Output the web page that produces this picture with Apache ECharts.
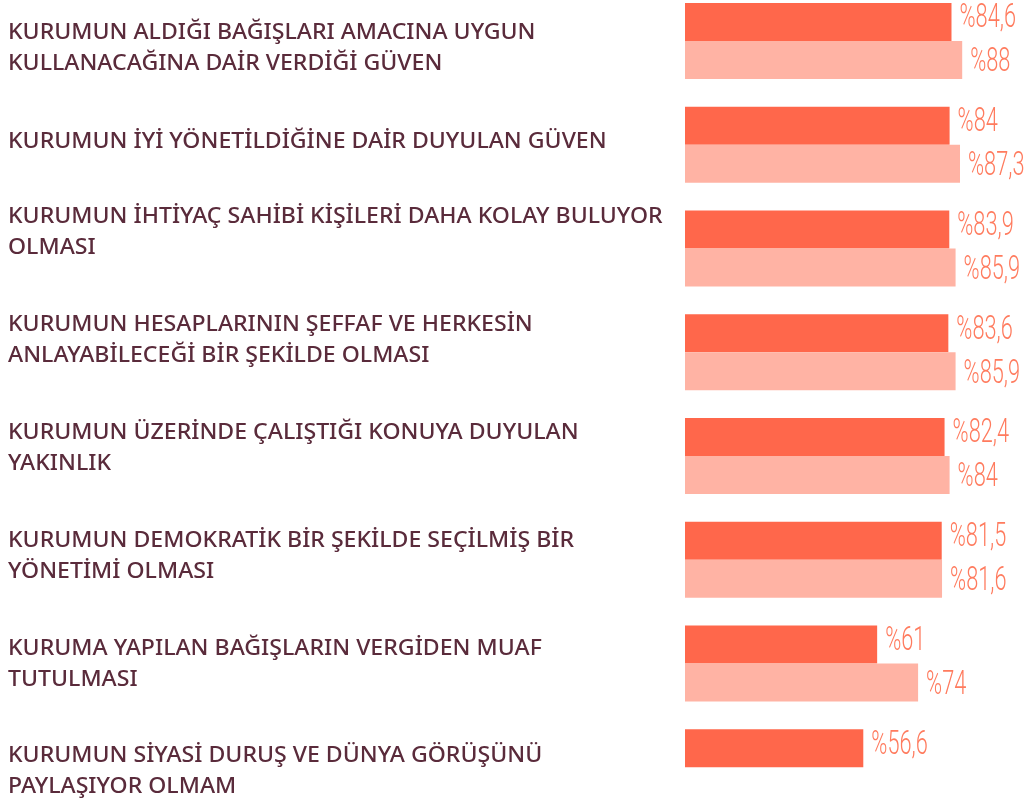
<!DOCTYPE html>
<html>
<head>
<meta charset="utf-8">
<script src="https://cdn.jsdelivr.net/npm/echarts@6/dist/echarts.min.js"></script>
<style>
  html, body { margin: 0; padding: 0; background: #ffffff; overflow: hidden; width: 1025px; height: 804px; position: relative; }
  /* the plot bands run slightly past the page edges, so the canvas is taller and shifted up */
  #chart { position: absolute; left: 0; top: -11px; width: 1025px; height: 830px; }
</style>
</head>
<body>
<div id="chart"></div>
<script>
// Reasons for trusting an institution: two survey results per reason (%)
const categories = [
  'KURUMUN ALDIĞI BAĞIŞLARI AMACINA UYGUN\nKULLANACAĞINA DAİR VERDİĞİ GÜVEN',
  'KURUMUN İYİ YÖNETİLDİĞİNE DAİR DUYULAN GÜVEN',
  'KURUMUN İHTİYAÇ SAHİBİ KİŞİLERİ DAHA KOLAY BULUYOR\nOLMASI',
  'KURUMUN HESAPLARININ ŞEFFAF VE HERKESİN\nANLAYABİLECEĞİ BİR ŞEKİLDE OLMASI',
  'KURUMUN ÜZERİNDE ÇALIŞTIĞI KONUYA DUYULAN\nYAKINLIK',
  'KURUMUN DEMOKRATİK BİR ŞEKİLDE SEÇİLMİŞ BİR\nYÖNETİMİ OLMASI',
  'KURUMA YAPILAN BAĞIŞLARIN VERGİDEN MUAF\nTUTULMASI',
  'KURUMUN SİYASİ DURUŞ VE DÜNYA GÖRÜŞÜNÜ\nPAYLAŞIYOR OLMAM'
];
const seriesA = [84.6, 84, 83.9, 83.6, 82.4, 81.5, 61, 56.6];
const seriesB = [88, 87.3, 85.9, 85.9, 84, 81.6, 74, null];

// Layout (page pixels): top of each category text block
const labelTops = [18, 127, 202, 310, 418, 526, 634, 741];
const CANVAS_SHIFT = 11;

const BAR_W = 38;
const COLOR_A = '#FF674B';
const COLOR_B = '#FFB3A4';
const VALUE_COLOR = '#FF7B5E';
const TEXT_COLOR = '#5A2B3B';

function fmt(v) { return '%' + String(v).replace('.', ','); }

function valueLabelSeries(values, dy) {
  return {
    type: 'custom',
    silent: true,
    z: 5,
    data: values.map((v, i) => v == null ? null : [v, i]).filter(d => d),
    encode: { x: 0, y: 1 },
    renderItem: function (params, api) {
      const v = api.value(0);
      const p = api.coord([v, api.value(1)]);
      return {
        type: 'text',
        x: p[0] + 8,
        y: p[1] + dy,
        scaleX: 0.64,
        style: {
          text: fmt(v),
          fontFamily: 'Roboto',
          fontWeight: 300,
          fontSize: 34,
          fill: VALUE_COLOR,
          align: 'left',
          verticalAlign: 'middle'
        }
      };
    }
  };
}

const chart = echarts.init(document.getElementById('chart'), null, { renderer: 'canvas' });

chart.setOption({
  animation: false,
  backgroundColor: '#ffffff',
  grid: { left: 685, right: 25, top: 0, bottom: 0, containLabel: false },
  xAxis: {
    type: 'value', min: 0, max: 100,
    show: false
  },
  yAxis: {
    type: 'category',
    data: categories,
    inverse: true,
    axisLine: { show: false },
    axisTick: { show: false },
    axisLabel: { show: false },
    splitLine: { show: false }
  },
  graphic: categories.map((c, i) => ({
    type: 'text',
    x: 8,
    y: labelTops[i] + CANVAS_SHIFT,
    scaleX: 1.1,
    style: {
      text: c,
      fontFamily: '"Noto Sans", Roboto, sans-serif',
      fontWeight: 500,
      fontSize: 21,
      lineHeight: 31,
      fill: TEXT_COLOR
    }
  })),
  series: [
    {
      type: 'bar',
      data: seriesA,
      barWidth: BAR_W,
      barGap: '0%',
      itemStyle: { color: COLOR_A },
      silent: true
    },
    {
      type: 'bar',
      data: seriesB,
      barWidth: BAR_W,
      barGap: '0%',
      itemStyle: { color: COLOR_B },
      silent: true
    },
    valueLabelSeries(seriesA, -BAR_W / 2 - 3),
    valueLabelSeries(seriesB, BAR_W / 2 + 3)
  ]
});
</script>
</body>
</html>
